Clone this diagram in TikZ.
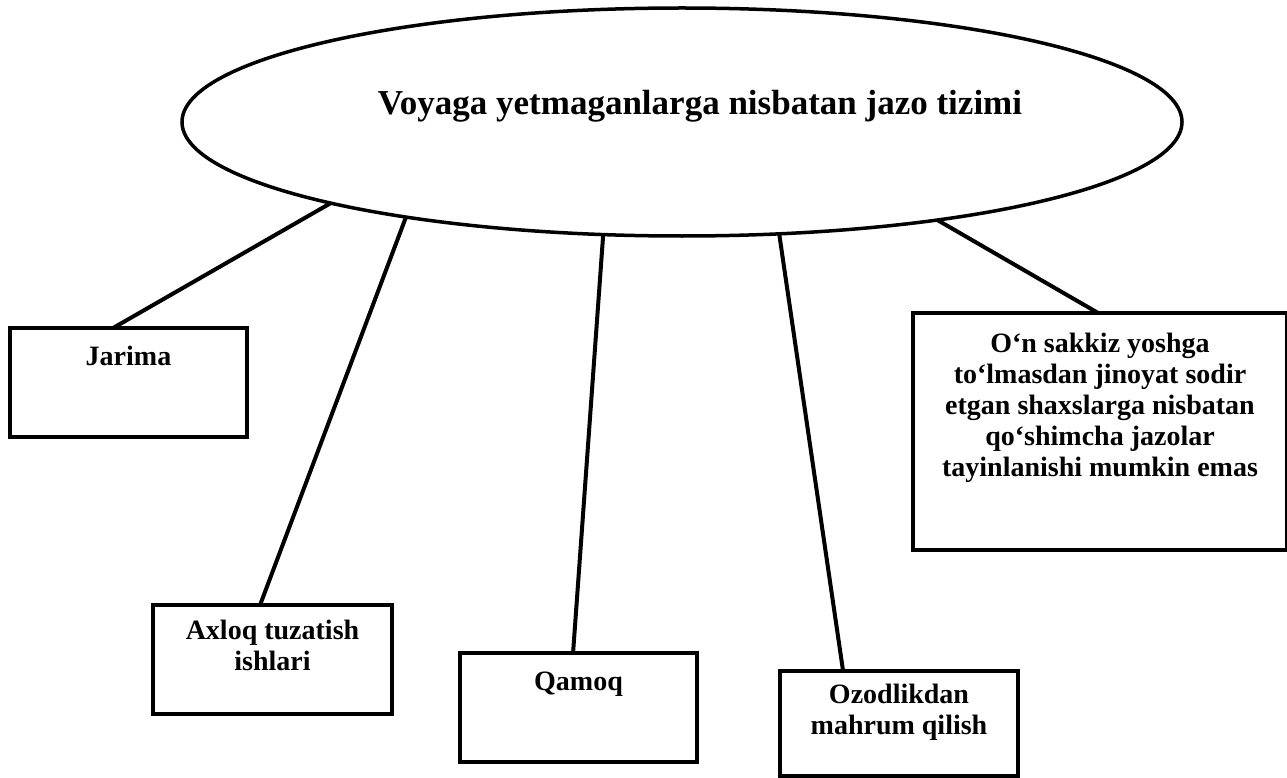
\documentclass[tikz,border=0pt]{standalone}
\usepackage{fontspec}
\setmainfont{Liberation Serif}
\usetikzlibrary{shapes.geometric,calc}
\begin{document}
\begin{tikzpicture}[x=1pt,y=-1pt,
  boxnode/.style={draw, line width=4.5pt, inner sep=0pt, outer sep=0pt,
    font=\bfseries\fontsize{28}{31}\selectfont},
  ovalnode/.style={draw, ellipse, line width=3.5pt, inner sep=0pt, outer sep=0pt,
    minimum width=1000pt, minimum height=228pt},
  titletext/.style={font=\bfseries\fontsize{35}{40}\selectfont, inner sep=0pt, anchor=base},
  link/.style={line width=4pt},
]
\useasboundingbox (0,0) rectangle (1287,778);
\node[ovalnode] (ell) at (682,122) {};
\node[titletext] (title) at (700,115) {Voyaga yetmaganlarga nisbatan jazo tizimi};

\node[boxnode] (jarima) at (128.5,382.5)
  {\parbox[c][109pt][t]{237pt}{\centering\rule{0pt}{37pt}Jarima}};
\node[boxnode] (axloq) at (272.5,659.5)
  {\parbox[c][109pt][t]{239pt}{\centering\rule{0pt}{34pt}Axloq tuzatish\\ishlari}};
\node[boxnode] (qamoq) at (578.5,707.5)
  {\parbox[c][109pt][t]{237pt}{\centering\rule{0pt}{37pt}Qamoq}};
\node[boxnode] (ozod) at (899,723.5)
  {\parbox[c][105pt][t]{238pt}{\centering\rule{0pt}{32pt}Ozodlikdan\\mahrum qilish}};
\node[boxnode] (qosh) at (1100,431.5)
  {\parbox[c][237pt][t]{374pt}{\centering\rule{0pt}{39pt}O‘n sakkiz yoshga\\to‘lmasdan jinoyat sodir\\etgan shaxslarga nisbatan\\qo‘shimcha jazolar\\tayinlanishi mumkin emas}};

\draw[link] (ell.193.4) -- ($(jarima.north west)!0.435!(jarima.north east)$);
\draw[link] (ell.199.4) -- ($(axloq.north west)!0.448!(axloq.north east)$);
\draw[link] (ell.235.0) -- ($(qamoq.north west)!0.477!(qamoq.north east)$);
\draw[link] (ell.311.4) -- ($(ozod.north west)!0.265!(ozod.north east)$);
\draw[link] (ell.339.0) -- ($(qosh.north west)!0.495!(qosh.north east)$);
\end{tikzpicture}
\end{document}
